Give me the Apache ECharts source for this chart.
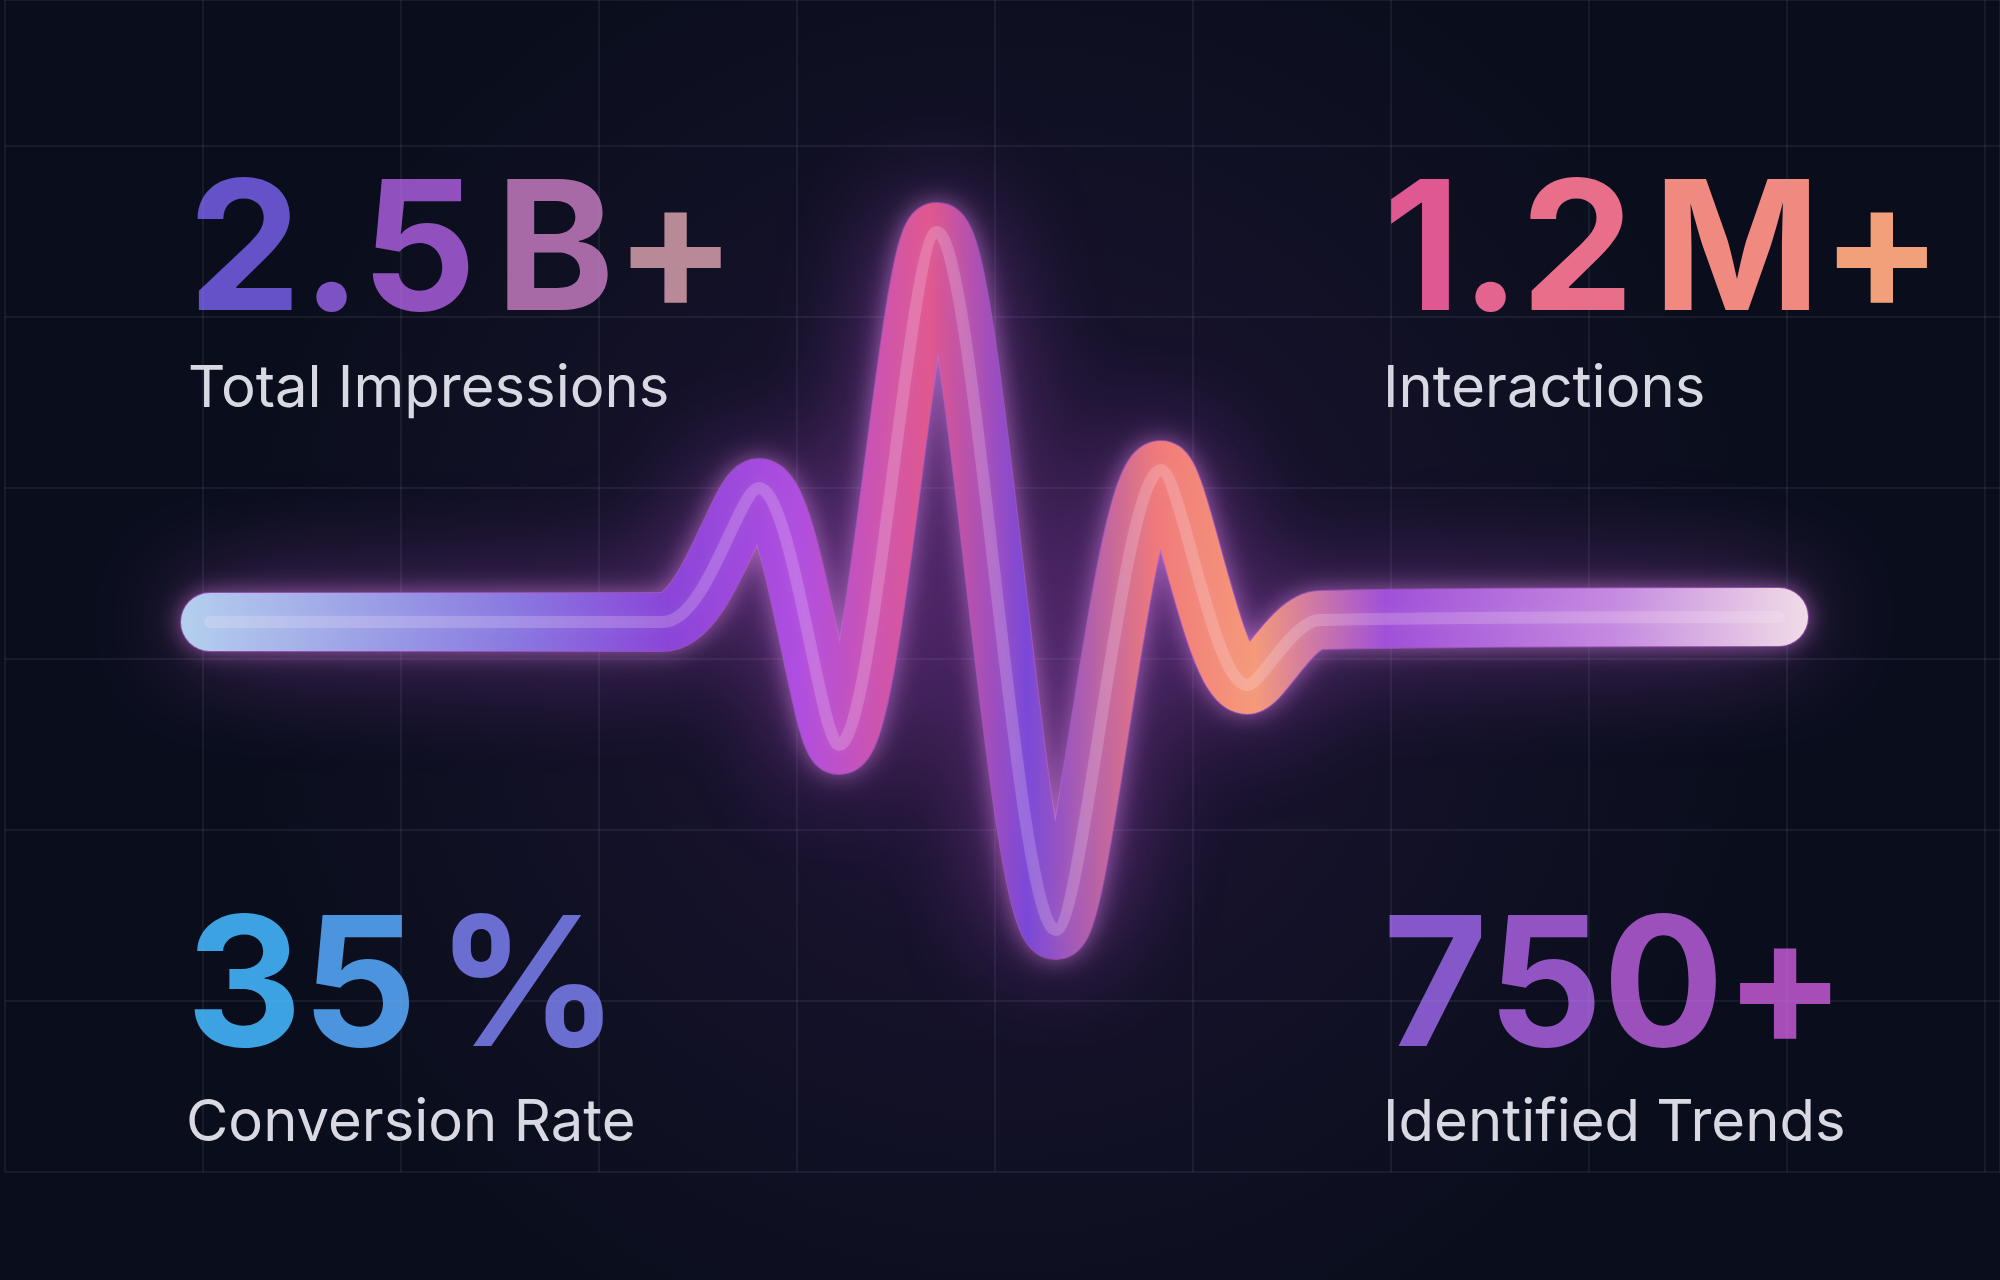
<!DOCTYPE html>
<html><head><meta charset="utf-8">
<script src="https://cdn.jsdelivr.net/npm/echarts@6/dist/echarts.min.js"></script>
<style>html,body{margin:0;padding:0;background:#0b0e1d}#c{width:2000px;height:1280px}</style>
</head><body><div id="c"></div>
<script>
// pulse line control points (x, y in page-like units)
const pulseX = [210, 663, 759, 839, 937, 1056, 1161, 1247, 1320, 1779];
const pulseY = [622, 622, 488, 745, 232, 930, 470, 685, 620, 617];
const statValues = ['2.5 B+', '1.2 M+', '35 %', '750+'];
const statLabels = ['Total Impressions', 'Interactions', 'Conversion Rate', 'Identified Trends'];

const G = echarts.graphic;
const pts = pulseX.map((x, i) => [x, pulseY[i]]);
const lineGrad = new G.LinearGradient(0, 0, 1, 0, [
  {offset: 0, color: '#b4d0ee'}, {offset: 0.2, color: '#8a7be0'}, {offset: 0.3, color: '#8a45d8'},
  {offset: 0.38, color: '#b04ee0'}, {offset: 0.46, color: '#e0588e'}, {offset: 0.52, color: '#7a48d8'},
  {offset: 0.6, color: '#f07a7a'}, {offset: 0.66, color: '#f59a7a'}, {offset: 0.74, color: '#a050d8'},
  {offset: 0.88, color: '#c58ae0'}, {offset: 1, color: '#f0dce6'}]);

const pos = [[188, 316, 411], [1383, 316, 411], [186, 1052, 1145], [1383, 1052, 1145]];
const charColors = [
  ['#6652c8', '#7d52c4', '#9050bd', '#9a52b8', '#a86aa6', '#b88a98'],
  ['#e05892', '#e46490', '#e86e8a', '#ec7a86', '#f08a80', '#f2a07a'],
  ['#3da2e2', '#4c94de', '#5a84da', '#6a6ed0'],
  ['#8458c8', '#9254c2', '#9c50bc', '#a84cb8']];
const graphics = [];
statValues.forEach((v, i) => {
  const rich = {};
  let txt = '';
  v.split('').forEach((ch, k) => {
    rich['c' + k] = {fill: charColors[i][k], font: ch === ' ' ? 'bold 80px Inter' : 'bold 180px Inter'};
    txt += '{c' + k + '|' + ch + '}';
  });
  graphics.push({type: 'text', left: pos[i][0], top: pos[i][1] - 150, style: {
    text: txt, rich: rich, font: 'bold 180px Inter', fill: '#fff'}});
  graphics.push({type: 'text', left: pos[i][0], top: pos[i][2] - 50, style: {
    text: statLabels[i], font: '400 58px Inter', fill: '#d9d9e3'}});
});

const gridLine = {lineStyle: {color: 'rgba(150,160,200,0.10)', width: 2}};
const chart = echarts.init(document.getElementById('c'));
chart.setOption({
  backgroundColor: new G.RadialGradient(0.5, 0.5, 0.6, [
    {offset: 0, color: '#2a1740'}, {offset: 0.45, color: '#15122a'}, {offset: 1, color: '#0a0e1c'}]),
  animation: false,
  grid: [{left: 0, right: 0, top: 0, bottom: 0}, {left: 5, right: 0, top: 0, bottom: 108}],
  xAxis: [
    {type: 'value', min: 0, max: 2000, show: false},
    {type: 'value', gridIndex: 1, min: 0, max: 1995, interval: 198, axisLine: {show: false}, axisTick: {show: false},
     axisLabel: {show: false}, splitLine: gridLine}],
  yAxis: [
    {type: 'value', min: 0, max: 1280, inverse: true, show: false},
    {type: 'value', gridIndex: 1, min: 0, max: 1172, interval: 171, axisLine: {show: false}, axisTick: {show: false},
     axisLabel: {show: false}, splitLine: gridLine}],
  series: [
    {type: 'line', data: pts, smooth: 0.3, symbol: 'none', z: 2,
     lineStyle: {width: 60, color: 'rgba(190,80,230,0.5)', cap: 'round', join: 'round', shadowBlur: 110, shadowColor: 'rgba(200,90,235,0.95)'}},
    {type: 'line', data: pts, smooth: 0.3, symbol: 'none', z: 3,
     lineStyle: {width: 58, color: lineGrad, cap: 'round', join: 'round', shadowBlur: 25, shadowColor: 'rgba(230,140,240,0.6)'}},
    {type: 'line', data: pts, smooth: 0.3, symbol: 'none', z: 4,
     lineStyle: {width: 12, color: 'rgba(255,235,250,0.2)', cap: 'round', join: 'round', shadowBlur: 14, shadowColor: 'rgba(255,255,255,0.3)'}}
  ],
  graphic: graphics
});
</script></body></html>
